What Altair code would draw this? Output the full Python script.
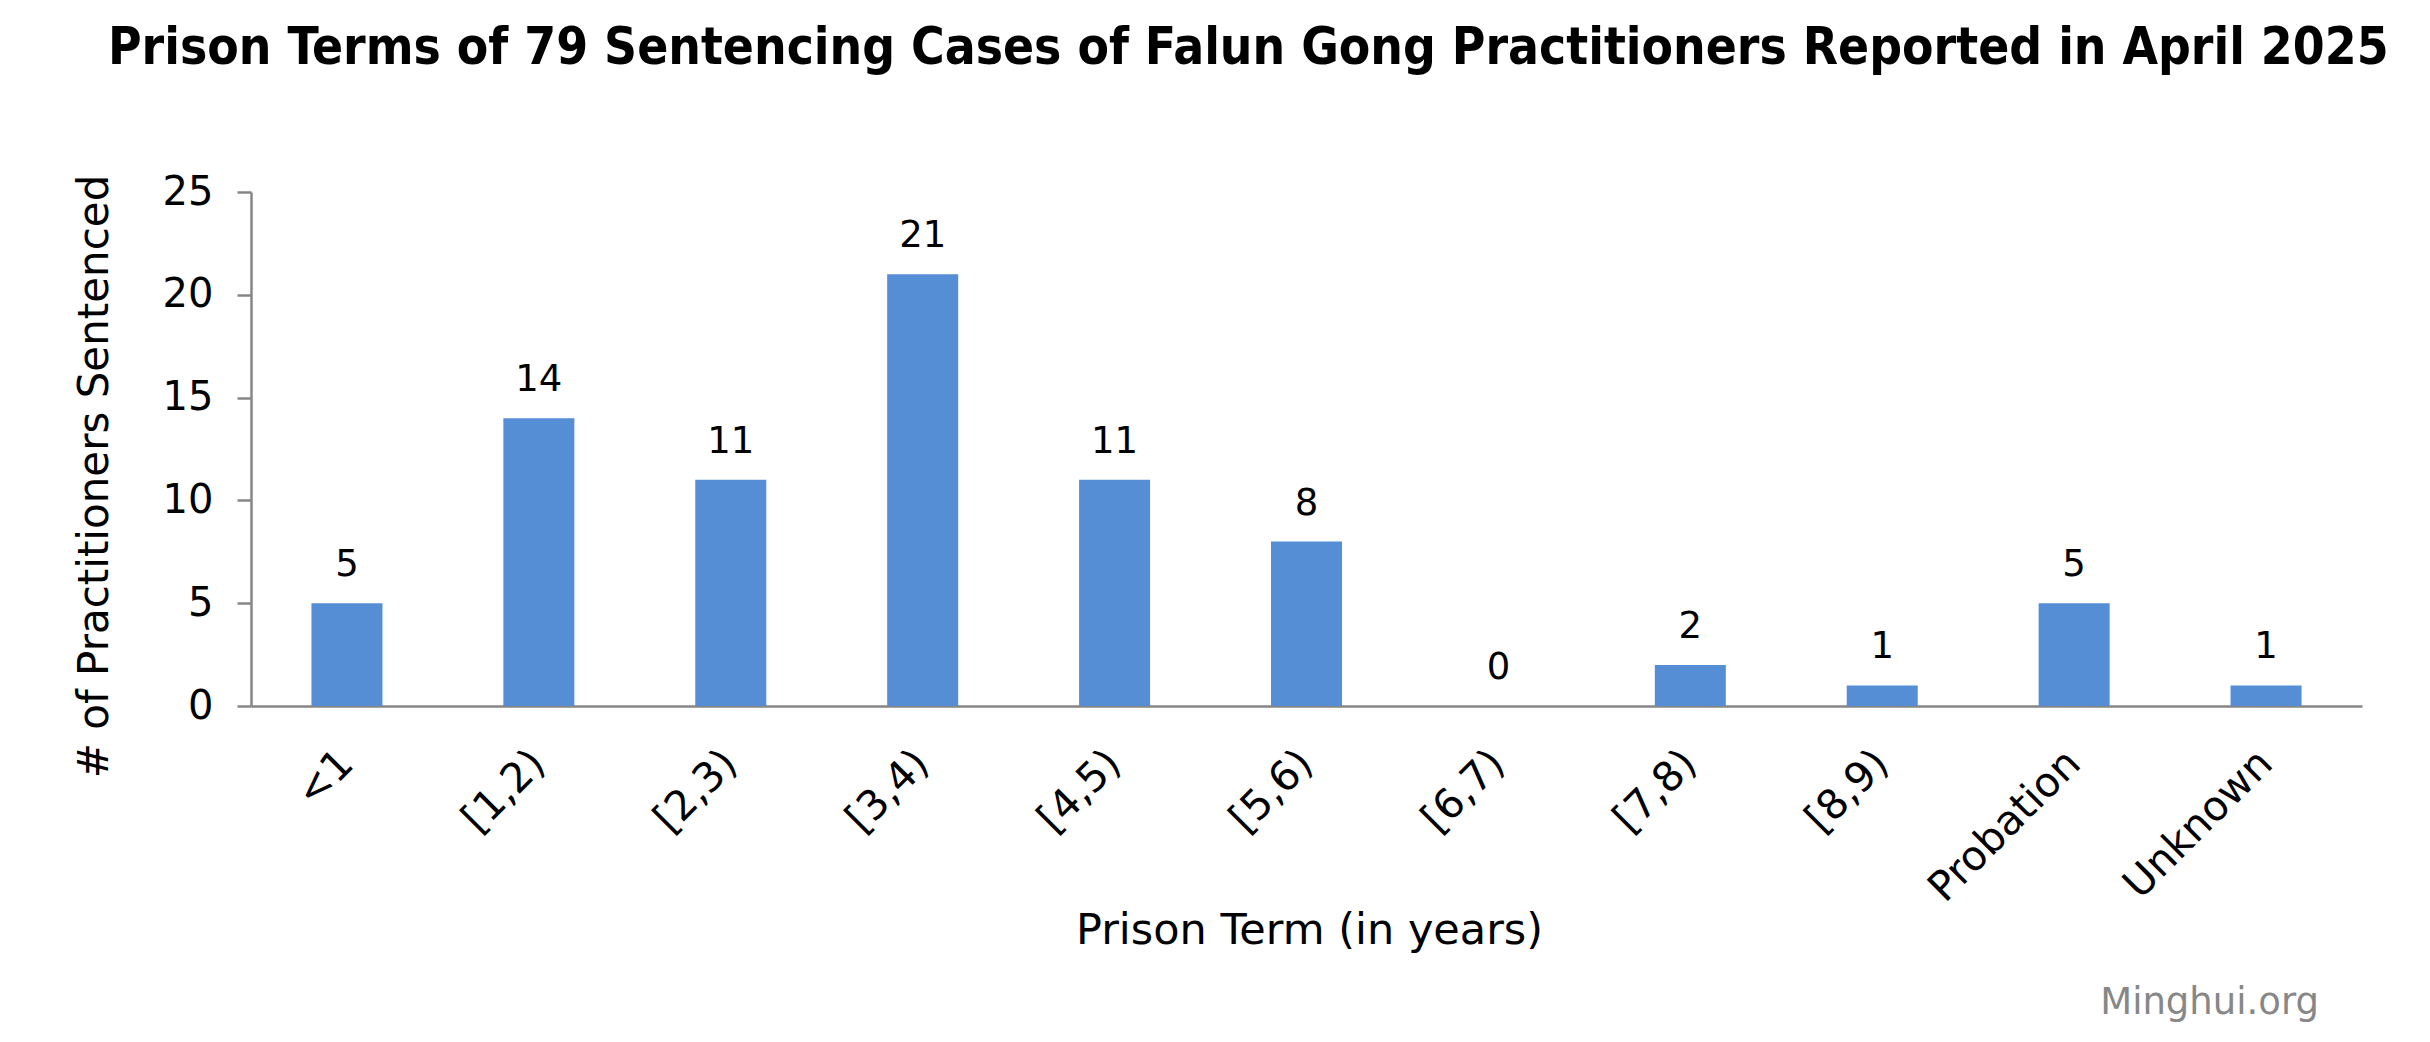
import altair as alt
import pandas as pd

categories = ["<1", "[1,2)", "[2,3)", "[3,4)", "[4,5)", "[5,6)", "[6,7)", "[7,8)", "[8,9)", "Probation", "Unknown"]
counts = [5, 14, 11, 21, 11, 8, 0, 2, 1, 5, 1]

title_text = "Prison Terms of 79 Sentencing Cases of Falun Gong Practitioners Reported in April 2025"
x_title = "Prison Term (in years)"
y_title = "# of Practitioners Sentenced"
y_ticks = [0, 5, 10, 15, 20, 25]
watermark = "Minghui.org"

df = pd.DataFrame({"term": categories, "count": counts})

FONT = "DejaVu Sans"
AXIS_GRAY = "#868686"
BAR = "#558ed5"

W, H = 2111, 514

x_enc = alt.X(
    "term:N",
    sort=categories,
    scale=alt.Scale(paddingInner=0, paddingOuter=0),
    axis=alt.Axis(
        title=x_title,
        labelAngle=-45,
        labelAlign="right",
        labelBaseline="middle",
        labelPadding=51,
        labelFontSize=41,
        labelFont=FONT,
        labelColor="black",
        labelLimit=0,
        ticks=False,
        domainColor=AXIS_GRAY,
        domainWidth=2.5,
        titleFont=FONT,
        titleFontSize=43,
        titleFontWeight="normal",
        titleColor="black",
        titleX=1058,
        titleY=237,
        titleAlign="center",
        titleBaseline="alphabetic",
        grid=False,
    ),
)

y_enc = alt.Y(
    "count:Q",
    scale=alt.Scale(domain=[0, 25], nice=False),
    axis=alt.Axis(
        title=y_title,
        values=y_ticks,
        tickSize=14,
        tickColor=AXIS_GRAY,
        tickWidth=2.5,
        domainColor=AXIS_GRAY,
        domainWidth=2.5,
        labelFontSize=40,
        labelFont=FONT,
        labelColor="black",
        labelPadding=24,
        titleFont=FONT,
        titleFontSize=42,
        titleFontWeight="normal",
        titleColor="black",
        titleX=-144,
        titleY=284,
        titleAngle=270,
        titleAlign="center",
        titleBaseline="alphabetic",
        grid=False,
    ),
)

bars = alt.Chart(df).mark_bar(color=BAR, width=alt.RelativeBandSize(0.37)).encode(
    x=x_enc, y=y_enc
)

labels = alt.Chart(df).mark_text(
    baseline="alphabetic", dy=-27, fontSize=37, font=FONT, color="black"
).encode(x=alt.X("term:N", sort=categories), y="count:Q", text="count:Q")

wm = alt.Chart(pd.DataFrame({"t": [watermark]})).mark_text(
    align="right", baseline="alphabetic", fontSize=37, font=FONT, color="#878787", clip=False
).encode(x=alt.value(2068), y=alt.value(822), text="t:N")

chart = (
    alt.layer(bars, labels, wm)
    .properties(
        width=W,
        height=H,
        background="white",
        autosize=alt.AutoSizeParams(type="none"),
        padding={"left": 243, "top": 184, "right": 60, "bottom": 328},
        title=alt.TitleParams(
            text=title_text,
            font="DejaVu Sans Condensed, DejaVu Sans",
            fontSize=51,
            fontWeight="bold",
            color="black",
            anchor="start",
            frame="group",
            dx=-143,
            offset=57,
            baseline="alphabetic",
        ),
    )
    .configure_view(stroke=None)
)

chart.save("out.html", embed_options={"renderer": "svg", "actions": False})
